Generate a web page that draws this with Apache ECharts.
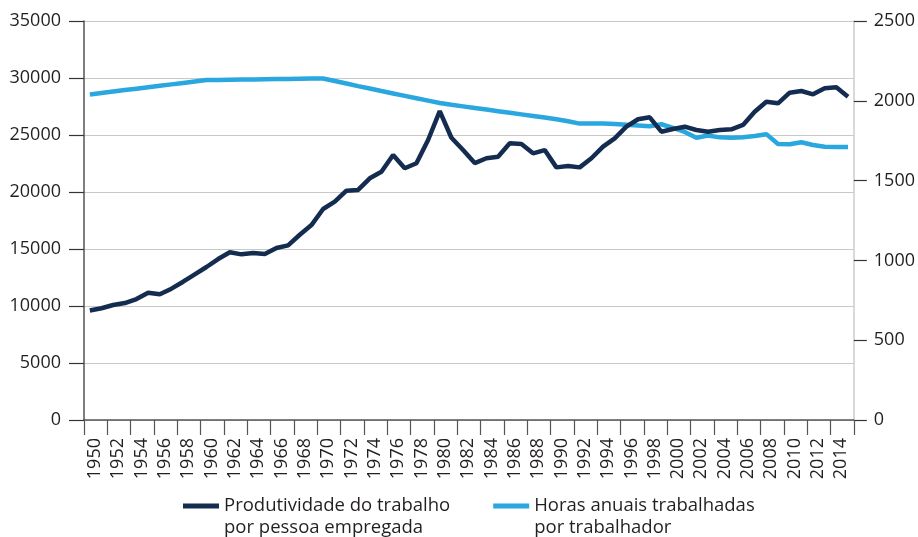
<!DOCTYPE html>
<html>
<head>
<meta charset="utf-8">
<script src="https://cdn.jsdelivr.net/npm/echarts@6/dist/echarts.min.js"></script>
<style>
html,body{margin:0;padding:0;background:#fff;}
#chart{width:918px;height:537px;}
</style>
</head>
<body>
<div id="chart"></div>
<script>
const years = [];
for (let y = 1950; y <= 2015; y++) years.push(String(y));

const seriesNames = ['Produtividade do trabalho\npor pessoa empregada', 'Horas anuais trabalhadas\npor trabalhador'];

const produtividade = [
  9600, 9800, 10090, 10260, 10610, 11170, 11030, 11520, 12130, 12780,
  13420, 14120, 14710, 14530, 14650, 14560, 15090, 15320, 16250, 17100,
  18510, 19150, 20120, 20180, 21200, 21780, 23250, 22080, 22520, 24560,
  27100, 24760, 23680, 22540, 22960, 23100, 24270, 24210, 23390, 23680,
  22160, 22280, 22160, 22960, 23980, 24710, 25730, 26380, 26550, 25290,
  25530, 25730, 25440, 25290, 25440, 25500, 25880, 27040, 27920, 27780,
  28710, 28860, 28570, 29100, 29180, 28360
];

const horas = [
  2040, 2049, 2058, 2067, 2076, 2085, 2094, 2103, 2112, 2121,
  2130, 2131, 2132, 2133, 2134, 2135, 2136, 2137, 2138, 2139,
  2140, 2124, 2108, 2092, 2077, 2061, 2046, 2031, 2016, 2001,
  1986, 1975, 1965, 1955, 1945, 1935, 1925, 1915, 1905, 1895,
  1884, 1872, 1857, 1858, 1858, 1855, 1850, 1845, 1840, 1853,
  1830, 1805, 1769, 1783, 1771, 1768, 1772, 1779, 1791, 1729,
  1728, 1740, 1723, 1712, 1711, 1711
];

const leftTicks = { min: 0, max: 35000, interval: 5000 };
const rightTicks = { min: 0, max: 2500, interval: 500 };

const FONT = '"Open Sans", "Noto Sans", sans-serif';
const TXT = '#231f20';
const DARK = '#142c4f';
const BLUE = '#2aa7df';

const chart = echarts.init(document.getElementById('chart'), null, { renderer: 'canvas' });
chart.setOption({
  animation: false,
  backgroundColor: '#fff',
  grid: { left: 84, right: 63, top: 21, bottom: 117, containLabel: false },
  legend: {
    left: 183,
    top: 473,
    padding: 0,
    itemGap: 43,
    itemWidth: 36,
    itemHeight: 5,
    icon: 'rect',
    formatter: function (name) { return '\u00a0\n' + name; },
    textStyle: { fontFamily: FONT, fontSize: 18.5, color: TXT, lineHeight: 22 },
    data: seriesNames
  },
  xAxis: {
    type: 'category',
    data: years,
    boundaryGap: true,
    axisLine: { show: true, lineStyle: { color: '#555', width: 1.5 } },
    axisTick: { show: true, interval: 1, length: 15, lineStyle: { color: '#555', width: 1.2 } },
    axisLabel: { interval: 1, rotate: 90, margin: 18, fontFamily: FONT, fontSize: 18, color: TXT, verticalAlign: 'top', lineHeight: 10 },
    splitLine: { show: false }
  },
  yAxis: [
    {
      type: 'value',
      position: 'left',
      min: leftTicks.min, max: leftTicks.max, interval: leftTicks.interval,
      axisLine: { show: true, lineStyle: { color: '#555', width: 1.5 } },
      axisTick: { show: true, length: 15, lineStyle: { color: '#333', width: 1.2 } },
      axisLabel: { margin: 23, fontFamily: FONT, fontSize: 18, color: TXT, formatter: function (v) { return String(v); } },
      splitLine: { show: true, lineStyle: { color: '#c8c8c8', width: 1.2 } }
    },
    {
      type: 'value',
      position: 'right',
      min: rightTicks.min, max: rightTicks.max, interval: rightTicks.interval,
      axisLine: { show: true, lineStyle: { color: '#ccc', width: 1.5 } },
      axisTick: { show: true, length: 13, lineStyle: { color: '#333', width: 1.2 } },
      axisLabel: { margin: 20, fontFamily: FONT, fontSize: 18, color: TXT, formatter: function (v) { return String(v); } },
      splitLine: { show: false }
    }
  ],
  series: [
    {
      name: seriesNames[1],
      type: 'line',
      yAxisIndex: 1,
      data: horas,
      symbol: 'none',
      lineStyle: { color: BLUE, width: 4.5 },
      itemStyle: { color: BLUE },
      z: 2
    },
    {
      name: seriesNames[0],
      type: 'line',
      yAxisIndex: 0,
      data: produtividade,
      symbol: 'none',
      lineStyle: { color: DARK, width: 4.5 },
      itemStyle: { color: DARK },
      z: 3
    }
  ]
});
</script>
</body>
</html>
